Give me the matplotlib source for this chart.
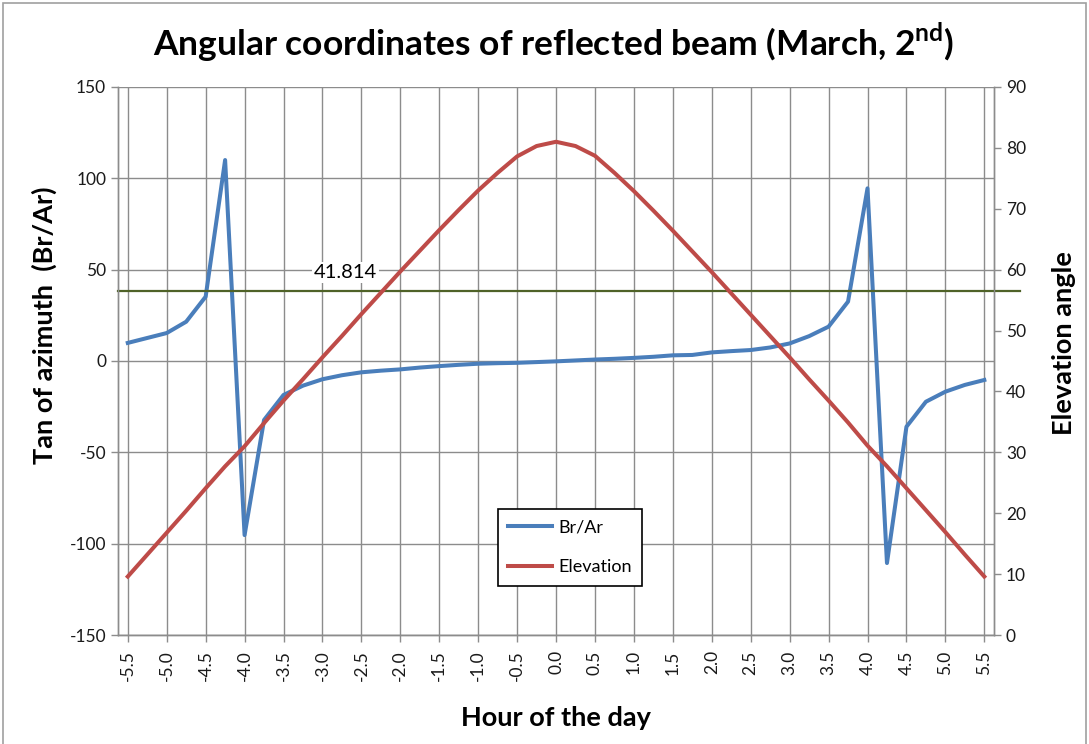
import matplotlib
matplotlib.use("Agg")
import matplotlib.pyplot as plt
import matplotlib.patches as patches

plt.rcParams['font.family'] = ['Lato', 'DejaVu Sans']
plt.rcParams['mathtext.fontset'] = 'custom'
plt.rcParams['mathtext.rm'] = 'Lato:bold'
plt.rcParams['mathtext.bf'] = 'Lato:bold'
plt.rcParams['axes.unicode_minus'] = False

# hour of the day (categories)
hours = [-5.5, -5.25, -5.0, -4.75, -4.5, -4.25, -4.0, -3.75, -3.5, -3.25, -3.0,
         -2.75, -2.5, -2.25, -2.0, -1.75, -1.5, -1.25, -1.0, -0.75, -0.5, -0.25,
         0.0, 0.25, 0.5, 0.75, 1.0, 1.25, 1.5, 1.75, 2.0, 2.25, 2.5, 2.75, 3.0,
         3.25, 3.5, 3.75, 4.0, 4.25, 4.5, 4.75, 5.0, 5.25, 5.5]

# tan of azimuth Br/Ar (left axis)
br_ar = [9.9, 12.6, 15.3, 21.5, 35.2, 110.0, -95.3, -32.3, -18.6, -13.5, -10.0,
         -7.8, -6.2, -5.3, -4.6, -3.6, -2.8, -2.1, -1.5, -1.2, -1.0, -0.6,
         -0.2, 0.3, 0.8, 1.2, 1.7, 2.3, 3.1, 3.3, 4.7, 5.4, 6.0, 7.4, 9.6,
         13.6, 18.8, 32.5, 94.5, -110.6, -36.0, -22.3, -16.8, -13.1, -10.4]

# elevation angle (right axis)
elevation = [9.6, 13.2, 16.8, 20.4, 24.1, 27.7, 31.0, 34.8, 38.5, 42.0, 45.6,
             49.1, 52.7, 56.2, 59.7, 63.1, 66.5, 69.8, 73.0, 75.9, 78.6, 80.3,
             81.0, 80.3, 78.7, 75.9, 72.9, 69.7, 66.4, 63.0, 59.6, 56.1, 52.6,
             49.1, 45.6, 42.0, 38.5, 34.9, 31.1, 27.7, 24.1, 20.5, 16.9, 13.2, 9.6]

threshold = 38.3          # level of the green reference line (left axis)
threshold_label = "41.814"

x_ticks = [-5.5, -5.0, -4.5, -4.0, -3.5, -3.0, -2.5, -2.0, -1.5, -1.0, -0.5,
           0.0, 0.5, 1.0, 1.5, 2.0, 2.5, 3.0, 3.5, 4.0, 4.5, 5.0, 5.5]

blue = '#4A7EBB'
red = '#BE4B48'
green = '#4F6228'
grid = '#8C8C8C'
txt = '#1a1a1a'

fig = plt.figure(figsize=(10.89, 7.44), dpi=100)
fig.patches.append(patches.Rectangle((0.003, -0.01), 0.994, 1.006, transform=fig.transFigure,
                                     fill=False, edgecolor='#A0A0A0', linewidth=1.2))
ax = fig.add_axes([0.1084, 0.1465, 0.8044, 0.7366])
ax2 = ax.twinx()

ax.plot(hours, br_ar, color=blue, linewidth=2.9, label='Br/Ar', solid_joinstyle='round')
ax2.plot(hours, elevation, color=red, linewidth=2.9, label='Elevation', solid_joinstyle='round')

ax.set_xlim(-5.625, 5.625)
ax.set_ylim(-150, 150)
ax2.set_ylim(0, 90)
ax.set_yticks([-150, -100, -50, 0, 50, 100, 150])
ax2.set_yticks(range(0, 91, 10))
ax.set_xticks(x_ticks)
ax.set_xticklabels([f'{v:.1f}' for v in x_ticks], rotation=90)

ax.grid(True, color=grid, linewidth=1.0)
ax.set_axisbelow(True)

for a in (ax, ax2):
    for s in a.spines.values():
        s.set_color(grid)
        s.set_linewidth(1.0)
    a.tick_params(colors=grid, labelcolor=txt, labelsize=12.5, length=5, width=1.0)
ax.spines['top'].set_visible(False)
ax2.spines['top'].set_visible(False)
ax.tick_params(axis='x', pad=6)

# green reference line
ax.axhline(threshold, xmin=0, xmax=1.03, color=green, linewidth=1.6, clip_on=False, zorder=3)
ax.text(-2.7, threshold + 10.0, threshold_label, fontsize=14.5, color='black', ha='center',
        va='center', bbox=dict(facecolor='white', edgecolor='none', pad=1.5), zorder=4)

ax.set_ylabel('Tan of azimuth  (Br/Ar)', fontsize=19.5, fontweight='bold', color='black')
ax.yaxis.set_label_coords(-0.07, 0.566)
ax2.set_ylabel('Elevation angle', fontsize=19.5, fontweight='bold', color='black')
ax2.yaxis.set_label_coords(1.066, 0.533)
ax.set_xlabel('Hour of the day', fontsize=19.5, fontweight='bold', color='black')
ax.xaxis.set_label_coords(0.5, -0.13)

fig.text(0.508, 0.944, 'Angular coordinates of reflected beam (March, 2$^{\\mathrm{nd}}$)',
         ha='center', va='center', fontsize=25.5, fontweight='bold')

h1, l1 = ax.get_legend_handles_labels()
h2, l2 = ax2.get_legend_handles_labels()
leg = ax2.legend(h1 + h2, l1 + l2, loc='center', bbox_to_anchor=(0.516, 0.16),
                 fontsize=13, frameon=True, fancybox=False, framealpha=1,
                 edgecolor='black', handlelength=2.4, handletextpad=0.35,
                 labelspacing=1.3, borderpad=0.6)
leg.get_frame().set_linewidth(1.2)

fig.savefig('out.png', dpi=100)
